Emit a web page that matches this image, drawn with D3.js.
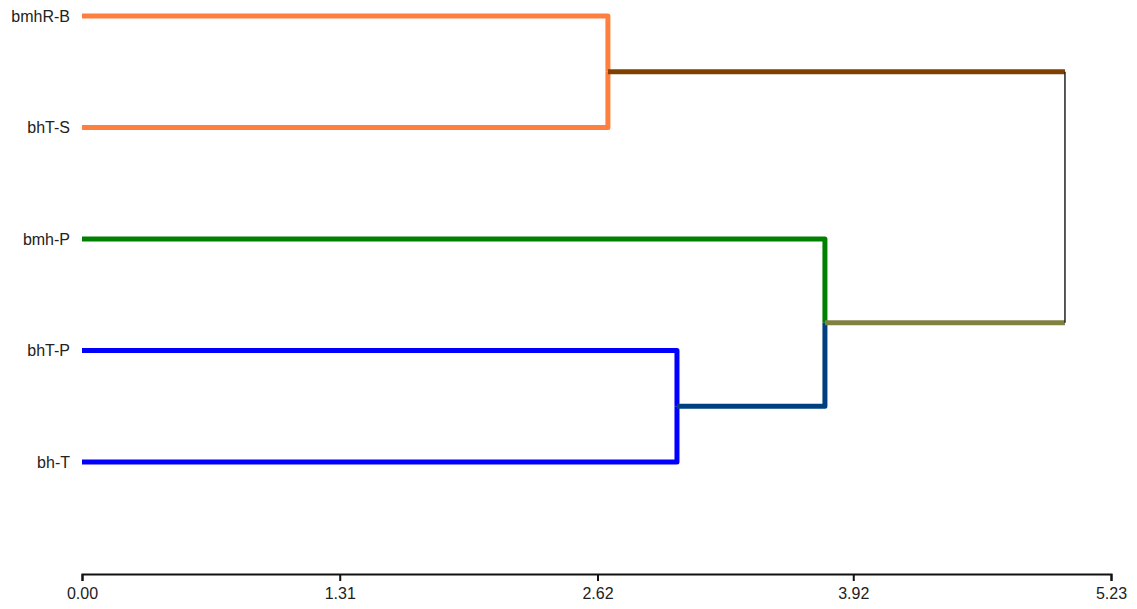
<!DOCTYPE html>
<html>
<head>
<meta charset="utf-8">
<script src="https://cdn.jsdelivr.net/npm/d3@7"></script>
<style>
  body { margin: 0; background: #fff; }
  text { font-family: "Liberation Sans", Arial, sans-serif; }
</style>
</head>
<body>
<div id="chart"></div>
<script>
// leaves, top to bottom
const leaves = ["bmhR-B", "bhT-S", "bmh-P", "bhT-P", "bh-T"];
const leafColors = ["#ff7f3f", "#ff7f3f", "#008000", "#0000ff", "#0000ff"];

// merges: [id, left child, right child, height, colour of the link up]
const merges = [
  ["c1", "bmhR-B", "bhT-S", 2.673, "#804000"],
  ["c2", "bhT-P", "bh-T", 3.024, "#004080"],
  ["c3", "bmh-P", "c2", 3.776, "#808040"],
  ["root", "c1", "c3", 4.996, "#000000"]
];

const tickValues = [0, 1.31, 2.62, 3.92, 5.23];

const w = 1137, h = 609;
const m = {top: 16, left: 82, right: 26, bottom: 35};

const svg = d3.select("#chart")
  .append("svg")
  .attr("width", w)
  .attr("height", h);

const x = d3.scaleLinear()
  .domain([0, 5.23])
  .range([m.left, w - m.right]);

const y = d3.scalePoint()
  .domain(leaves)
  .range([16, 462]);

// build the node table
const nodes = {};
leaves.forEach((name, i) => {
  nodes[name] = {id: name, height: 0, y: y(name), color: leafColors[i]};
});
merges.forEach(([id, a, b, height, color]) => {
  nodes[id] = {id: id, height: height, y: (nodes[a].y + nodes[b].y) / 2, color: color, children: [a, b]};
  nodes[a].parent = id;
  nodes[b].parent = id;
});

const g = svg.append("g");

// links: horizontal at child y, then vertical at parent height (not for root)
Object.values(nodes).forEach(n => {
  if (!n.parent) return;
  const p = nodes[n.parent];
  const path = d3.path();
  path.moveTo(x(n.height), n.y);
  path.lineTo(x(p.height), n.y);
  if (p.parent) path.lineTo(x(p.height), p.y);
  g.append("path")
    .attr("d", path.toString())
    .attr("fill", "none")
    .attr("stroke", n.color)
    .attr("stroke-width", 5)
    .attr("stroke-linejoin", "round");
});

// root vertical, thin black
const root = nodes["root"];
g.append("line")
  .attr("x1", x(root.height)).attr("x2", x(root.height))
  .attr("y1", nodes[root.children[0]].y)
  .attr("y2", nodes[root.children[1]].y)
  .attr("stroke", "#222")
  .attr("stroke-width", 1.5);

// leaf labels
g.selectAll(".leaf")
  .data(leaves)
  .enter()
  .append("text")
  .attr("class", "leaf")
  .attr("x", x(0) - 12)
  .attr("y", d => y(d))
  .attr("dy", "0.35em")
  .attr("text-anchor", "end")
  .attr("font-size", 16)
  .attr("fill", "#222")
  .text(d => d);

// bottom axis
const xAxis = d3.axisBottom(x)
  .tickValues(tickValues)
  .tickFormat(d3.format(".2f"))
  .tickSize(7)
  .tickSizeOuter(7);

const ax = svg.append("g")
  .attr("transform", "translate(0,574)")
  .call(xAxis);

ax.select(".domain").attr("stroke", "#111").attr("stroke-width", 2);
ax.selectAll(".tick line").attr("stroke", "#111").attr("stroke-width", 2);
ax.selectAll(".tick text")
  .attr("font-size", 16)
  .attr("font-family", "Liberation Sans, Arial, sans-serif")
  .attr("fill", "#222")
  .attr("dy", "0.95em");
</script>
</body>
</html>
